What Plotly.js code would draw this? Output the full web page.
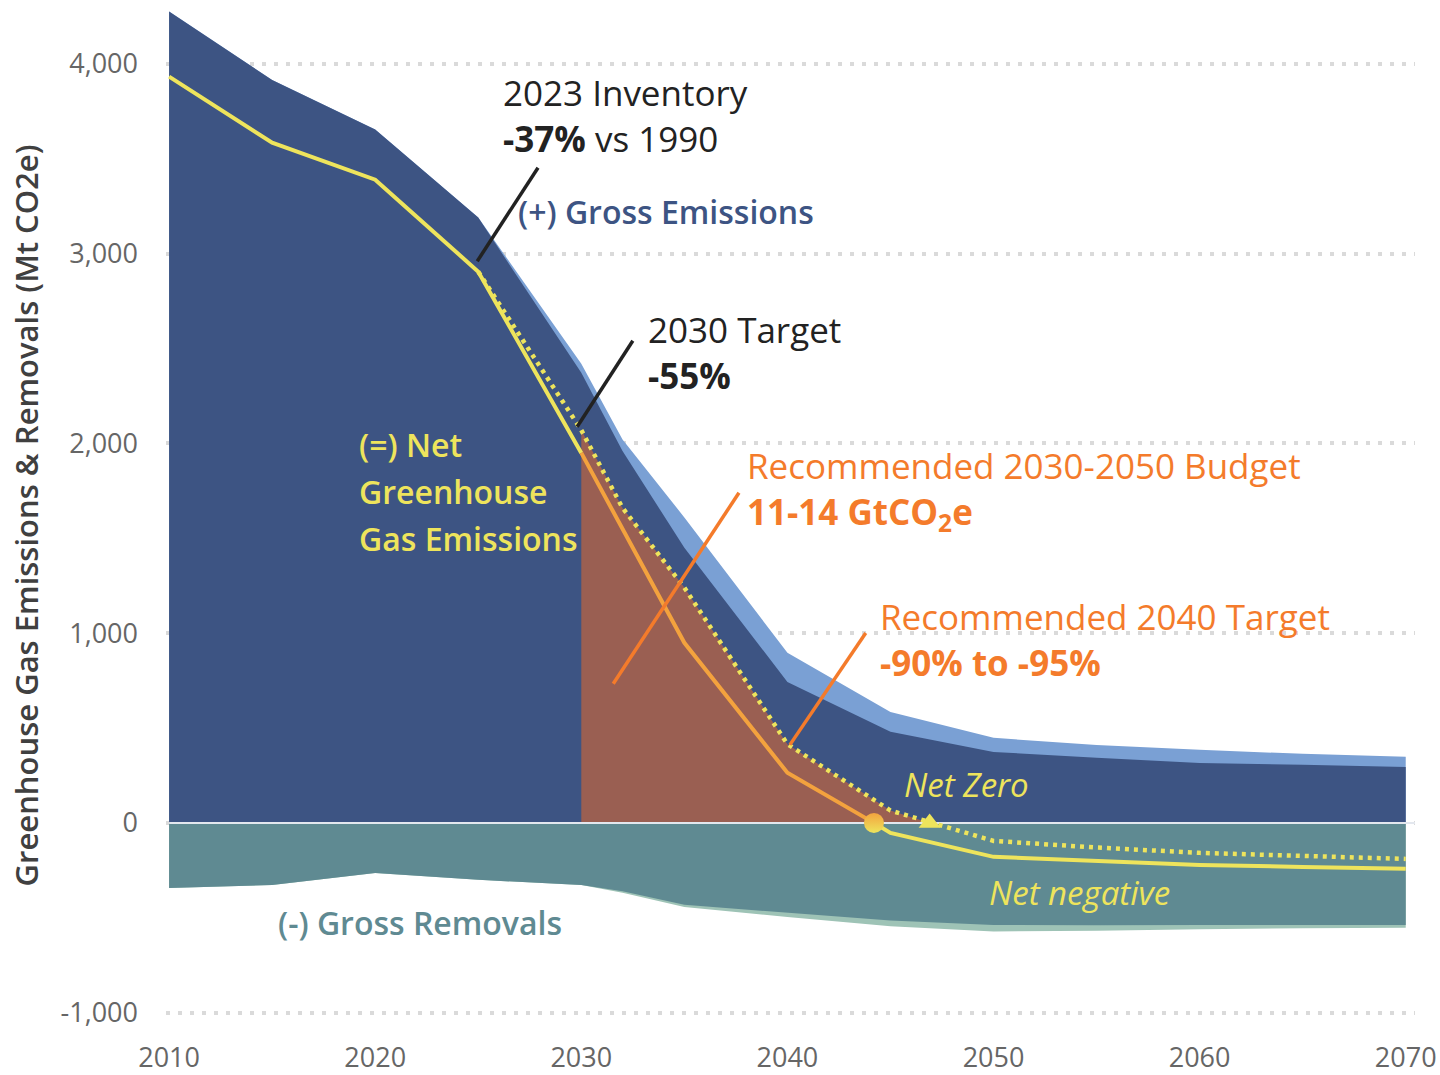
<!DOCTYPE html>
<html>
<head>
<meta charset="utf-8">
<script src="https://cdn.plot.ly/plotly-3.0.1.min.js"></script>
<style>
  html, body { margin: 0; padding: 0; background: #ffffff; }
  #chart { width: 1440px; height: 1075px; }
</style>
</head>
<body>
<div id="chart"></div>
<script>
// ---- Data (Mt CO2e) ----
const years = [2010, 2015, 2020, 2025, 2030, 2032, 2035, 2040, 2045, 2050, 2055, 2060, 2065, 2070];
const grossHigh = [4276, 3915, 3654, 3190, 2420, 2020, 1610, 896, 585, 448, 411, 385, 364, 348];
const grossLow = [4276, 3915, 3654, 3190, 2372, 1960, 1450, 743, 480, 374, 343, 316, 306, 295];
const removalsLow = [-343, -327, -264, -300, -327, -360, -432, -475, -515, -538, -540, -538, -538, -538];
const removalsHigh = [-343, -327, -264, -300, -327, -368, -443, -496, -545, -572, -568, -560, -556, -553];

const netYears = [2010, 2015, 2020, 2025, 2030, 2035, 2040, 2045, 2050, 2055, 2060, 2065, 2070];
const netLow = [3933, 3585, 3390, 2905, 1950, 949, 264, -53, -179, -200, -222, -232, -242];

const netHighYears = [2025, 2030, 2032, 2035, 2040, 2045, 2050, 2055, 2060, 2065, 2070];
const netHigh = [2905, 2070, 1660, 1240, 415, 65, -95, -130, -158, -175, -190];

const netZeroLow = {year: 2044.2, value: 0};
const netZeroHigh = {year: 2046.9, value: 0};
const budgetStart = 2030;

const xTicks = [2010, 2020, 2030, 2040, 2050, 2060, 2070];
const xTickLabels = ['2010', '2020', '2030', '2040', '2050', '2060', '2070'];
const yTicks = [-1000, 0, 1000, 2000, 3000, 4000];
const yTickLabels = ['-1,000', '0', '1,000', '2,000', '3,000', '4,000'];
const xRange = [2009.85, 2070.45];
const yRange = [-1060, 4300];

// ---- Colours ----
const C = {
  lightBlue: '#7AA0D4', darkBlue: '#3D5483', teal: '#5F8A92', lightTeal: '#9EC3B6',
  brown: '#9A5F52', yellow: '#EEE45C', orangeLine: '#F3A23E', orangeText: '#F47B2B',
  ink: '#222222'
};
const FONT = 'Open Sans, Noto Sans, sans-serif';

// ---- Derived series (built from the arrays above) ----
const budgetX = [], budgetY = [];
netHighYears.forEach((y, i) => { if (y >= budgetStart && netHigh[i] > 0) { budgetX.push(y); budgetY.push(netHigh[i]); } });
budgetX.push(netZeroHigh.year); budgetY.push(netZeroHigh.value);

const preX = [], preY = [], midX = [], midY = [], postX = [], postY = [];
netYears.forEach((y, i) => {
  if (y <= budgetStart) { preX.push(y); preY.push(netLow[i]); }
  if (y >= budgetStart && y < netZeroLow.year) { midX.push(y); midY.push(netLow[i]); }
  if (y > netZeroLow.year) { postX.push(y); postY.push(netLow[i]); }
});
midX.push(netZeroLow.year); midY.push(netZeroLow.value);
postX.unshift(netZeroLow.year); postY.unshift(netZeroLow.value);

const area = (x, y, color) => ({
  type: 'scatter', mode: 'lines', x: x, y: y, fill: 'tozeroy', fillcolor: color,
  line: {width: 0, color: color}, hoverinfo: 'skip'
});

const traces = [
  area(years, grossHigh, C.lightBlue),
  area(years, grossLow, C.darkBlue),
  area(years, removalsHigh, C.lightTeal),
  area(years, removalsLow, C.teal),
  area(budgetX, budgetY, C.brown),
  // zero line
  {type: 'scatter', mode: 'lines', x: [years[0], xRange[1]], y: [0, 0],
   line: {color: '#E3E7EE', width: 2}, hoverinfo: 'skip'},
  // net (high) dotted
  {type: 'scatter', mode: 'lines', x: netHighYears, y: netHigh,
   line: {color: C.yellow, width: 4.5, dash: '4px,5px'}, hoverinfo: 'skip'},
  // net (low) solid
  {type: 'scatter', mode: 'lines', x: preX, y: preY, line: {color: C.yellow, width: 4}, hoverinfo: 'skip'},
  {type: 'scatter', mode: 'lines', x: midX, y: midY, line: {color: C.orangeLine, width: 4}, hoverinfo: 'skip'},
  {type: 'scatter', mode: 'lines', x: postX, y: postY, line: {color: C.yellow, width: 4}, hoverinfo: 'skip'},
  // net zero markers
  {type: 'scatter', mode: 'markers', x: [netZeroLow.year], y: [netZeroLow.value],
   marker: {symbol: 'circle', size: 20, color: C.orangeLine, gradient: {type: 'vertical', color: C.yellow}, line: {width: 0}},
   hoverinfo: 'skip'},
  {type: 'scatter', mode: 'markers', x: [netZeroHigh.year], y: [netZeroHigh.value],
   marker: {symbol: 'triangle-up', size: 19, color: C.yellow, line: {width: 0}}, hoverinfo: 'skip'}
];

const ann = (x, y, text, size, color, weight) => ({
  x: x, y: y, xref: 'x', yref: 'y', text: text, showarrow: false,
  xanchor: 'left', yanchor: 'middle', align: 'left',
  font: {family: FONT, size: size, color: color, weight: weight || 400}
});

const annotations = [
  ann(2026.1, 3727, '2023 Inventory<br><b>-37%</b> vs 1990', 35, C.ink),
  ann(2026.85, 3221, '(+) Gross Emissions', 32, C.darkBlue, 600),
  ann(2033.15, 2478, '2030 Target<br><b>-55%</b>', 35, C.ink),
  ann(2019.1, 1994, '(=) Net', 32, C.yellow, 600),
  ann(2019.1, 1745, 'Greenhouse', 32, C.yellow, 600),
  ann(2019.1, 1497, 'Gas Emissions', 32, C.yellow, 600),
  ann(2037.95, 1750, 'Recommended 2030-2050 Budget<br><b>11-14 GtCO<sub>2</sub>e</b>', 35, C.orangeText),
  ann(2044.4, 965, 'Recommended 2040 Target<br><b>-90% to -95%</b>', 35, C.orangeText),
  ann(2045.55, 200, '<i>Net Zero</i>', 33, C.yellow),
  ann(2049.7, -369, '<i>Net negative</i>', 33, C.yellow),
  ann(2015.2, -527, '(-) Gross Removals', 32, C.teal, 600)
];

const pointer = (x0, y0, x1, y1, color) => ({
  type: 'line', xref: 'x', yref: 'y', x0: x0, y0: y0, x1: x1, y1: y1,
  line: {color: color, width: 3.5}, layer: 'above'
});

const shapes = [
  pointer(2027.9, 3453, 2024.95, 2960, C.ink),
  pointer(2032.5, 2541, 2029.8, 2088, C.ink),
  pointer(2037.65, 1740, 2031.55, 733, C.orangeText),
  pointer(2043.8, 1001, 2040.12, 411, C.orangeText)
];

const layout = {
  width: 1440, height: 1075,
  margin: {l: 166, r: 25, t: 7, b: 51, pad: 0},
  paper_bgcolor: '#ffffff', plot_bgcolor: '#ffffff',
  showlegend: false,
  font: {family: FONT, color: '#666666'},
  xaxis: {
    range: xRange, tickvals: xTicks, ticktext: xTickLabels,
    showgrid: false, zeroline: false, showline: false, ticks: '',
    tickfont: {family: FONT, size: 27, color: '#666666'},
    ticklabelstandoff: 15, fixedrange: true
  },
  yaxis: {
    range: yRange, tickvals: yTicks, ticktext: yTickLabels,
    showgrid: true, gridcolor: '#DADADA', gridwidth: 4, griddash: '4px,8px',
    zeroline: false, showline: false, ticks: '',
    tickfont: {family: FONT, size: 27, color: '#666666'},
    ticklabelstandoff: 27, fixedrange: true,
    title: {text: 'Greenhouse Gas Emissions & Removals (Mt CO2e)',
            font: {family: FONT, size: 31, color: '#404040', weight: 600}, standoff: 12}
  },
  annotations: annotations,
  shapes: shapes
};

Plotly.newPlot('chart', traces, layout, {displayModeBar: false, staticPlot: true});
</script>
</body>
</html>
